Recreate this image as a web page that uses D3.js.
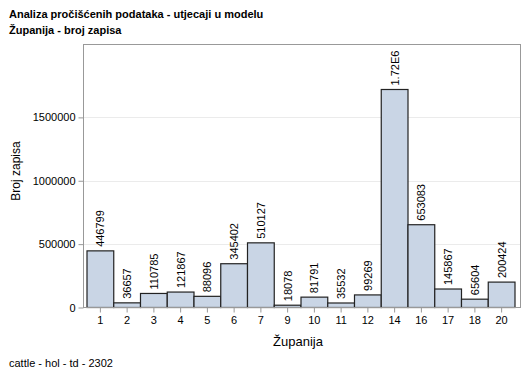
<!DOCTYPE html>
<html><head><meta charset="utf-8">
<script src="https://cdn.jsdelivr.net/npm/d3@7"></script>
<style>body{margin:0;background:#fff;}text{font-family:"Liberation Sans",Arial,sans-serif;}</style>
</head><body><svg id="c" width="529" height="378"></svg>
<script>
const categories = ["1","2","3","4","5","6","7","9","10","11","12","14","16","17","18","20"];
const values = [446799,36657,110785,121867,88096,345402,510127,18078,81791,35532,99269,1720000,653083,145867,65604,200424];
const labels = ["446799","36657","110785","121867","88096","345402","510127","18078","81791","35532","99269","1.72E6","653083","145867","65604","200424"];
const yTicks = [0,500000,1000000,1500000];

const svg = d3.select("#c");
const L=83.5, R=520.5, T=44.5, B=307.5;
const x = d3.scaleBand().domain(categories).range([87,515]).padding(0);
const y = d3.scaleLinear().domain([0,2075000]).range([B,T]);

svg.append("text").attr("x",9).attr("y",18).attr("font-size",11).attr("font-weight","bold").text("Analiza pročišćenih podataka - utjecaji u modelu");
svg.append("text").attr("x",9).attr("y",34).attr("font-size",11).attr("font-weight","bold").text("Županija - broj zapisa");

// grid
svg.append("g").selectAll("line").data(yTicks.slice(1)).join("line")
  .attr("x1",L).attr("x2",R).attr("y1",d=>Math.round(y(d))+0.5).attr("y2",d=>Math.round(y(d))+0.5)
  .attr("stroke","#ebebeb").attr("stroke-width",1);

// bars
svg.append("g").selectAll("rect").data(values).join("rect")
  .attr("x",(d,i)=>x(categories[i])).attr("width",x.bandwidth())
  .attr("y",d=>y(d)).attr("height",d=>B-y(d))
  .attr("fill","#c9d5e5").attr("stroke","#222").attr("stroke-width",1.2);

// value labels
svg.append("g").selectAll("text").data(values).join("text")
  .attr("transform",(d,i)=>`translate(${x(categories[i])+x.bandwidth()/2+4},${y(d)-4}) rotate(-90)`)
  .attr("font-size",11).attr("fill","#000").text((d,i)=>labels[i]);

// frame
svg.append("rect").attr("x",L).attr("y",T).attr("width",R-L).attr("height",B-T)
  .attr("fill","none").attr("stroke","#999").attr("stroke-width",1);

// y axis
const ya = svg.append("g").attr("transform",`translate(${L},0)`)
  .call(d3.axisLeft(y).tickValues(yTicks).tickSize(5).tickPadding(3).tickFormat(d3.format("d")));
ya.select(".domain").remove();
ya.selectAll("line").attr("stroke","#999");
ya.selectAll("text").attr("font-size",11).attr("fill","#000").style("font-family","Liberation Sans, Arial, sans-serif");

// x axis
const xa = svg.append("g").attr("transform",`translate(0,${B})`)
  .call(d3.axisBottom(x).tickSize(5).tickPadding(4));
xa.select(".domain").remove();
xa.selectAll("line").attr("stroke","#999");
xa.selectAll("text").attr("font-size",11).attr("fill","#000").style("font-family","Liberation Sans, Arial, sans-serif");

svg.append("text").attr("x",298).attr("y",346).attr("text-anchor","middle").attr("font-size",13).text("Županija");
svg.append("text").attr("transform",`translate(20,171) rotate(-90)`).attr("text-anchor","middle").attr("font-size",12).text("Broj zapisa");
svg.append("text").attr("x",9).attr("y",367).attr("font-size",11).text("cattle - hol - td - 2302");
</script></body></html>
